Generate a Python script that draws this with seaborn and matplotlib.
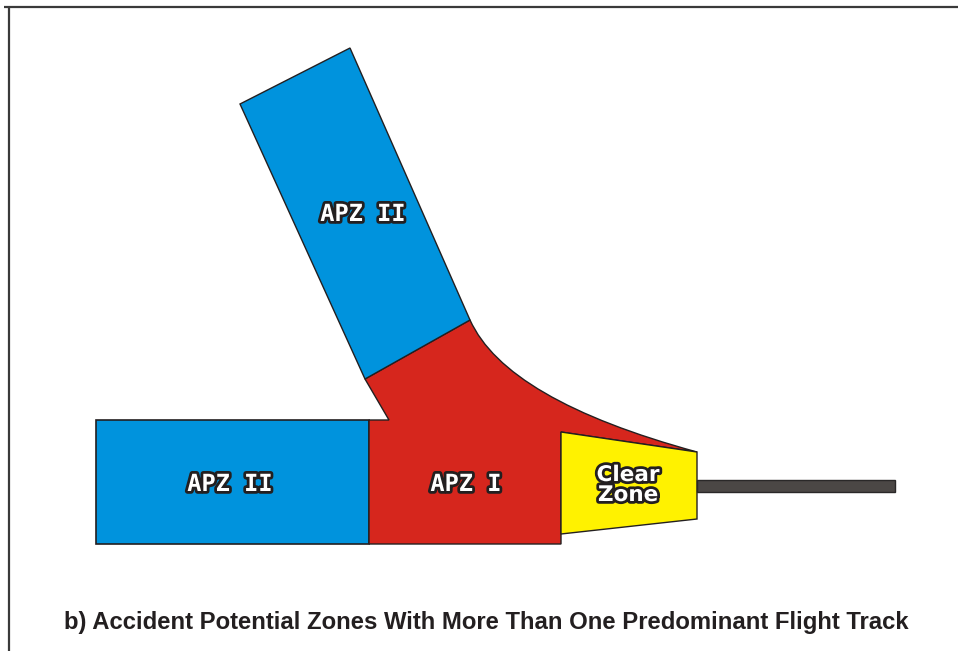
import numpy as np
import matplotlib
matplotlib.use("Agg")
import matplotlib.pyplot as plt
import matplotlib.patheffects as pe
from matplotlib.patches import Polygon, PathPatch, Rectangle
from matplotlib.path import Path
import seaborn as sns

# zone outlines in picture coordinates (x right, y down)
apz2_side = [(96, 420), (369, 420), (369, 544), (96, 544)]
apz2_tilted = [(240, 104), (350, 48), (470, 320), (365, 379)]
apz1_verts = [(369, 544), (369, 420), (389, 420), (365, 379), (470, 320),
              (506, 400), (697, 452), (561, 432), (561, 544), (369, 544)]
apz1_codes = [Path.MOVETO, Path.LINETO, Path.LINETO, Path.LINETO, Path.LINETO,
              Path.CURVE3, Path.CURVE3, Path.LINETO, Path.LINETO, Path.CLOSEPOLY]
clear_zone = [(561, 432), (697, 452), (697, 519), (561, 534)]
runway = (697, 480, 198, 12)  # x, y, width, height

labels = ["APZ II", "APZ II", "APZ I", "Clear\nZone"]
label_xy = [(363, 214), (230, 484), (466, 484), (628, 485)]
caption = "b) Accident Potential Zones With More Than One Predominant Flight Track"

BLUE = "#0093dd"
RED = "#d6261d"
YELLOW = "#fff200"
EDGE = "#231f20"

sns.set_style("white")
plt.rcParams['font.family'] = ['DejaVu Sans']

fig = plt.figure(figsize=(9.58, 6.51), dpi=100)
ax = fig.add_axes([0, 0, 1, 1])
ax.set_xlim(0, 958)
ax.set_ylim(651, 0)
ax.axis("off")

# frame lines (top and left only)
ax.plot([4, 958], [6.5, 6.5], color="#3a3a3a", lw=1.6, solid_capstyle="butt")
ax.plot([9.5, 9.5], [6, 651], color="#3a3a3a", lw=1.6, solid_capstyle="butt")

ax.add_patch(Polygon(apz2_side, closed=True, fc=BLUE, ec=EDGE, lw=1.2))
ax.add_patch(PathPatch(Path(apz1_verts, apz1_codes), fc=RED, ec=EDGE, lw=1.0))
ax.add_patch(Polygon(apz2_tilted, closed=True, fc=BLUE, ec=EDGE, lw=1.0))
ax.add_patch(Polygon(clear_zone, closed=True, fc=YELLOW, ec=EDGE, lw=1.0))
ax.add_patch(Rectangle(runway[:2], runway[2], runway[3], fc="#4b4745", ec="#2a2828", lw=1.0))

outline = [pe.withStroke(linewidth=4, foreground=EDGE)]
for i, (txt, (x, y)) in enumerate(zip(labels, label_xy)):
    if i < 3:
        ax.text(x, y, txt, ha="center", va="center", color="white",
                fontsize=17, fontweight="bold", family="DejaVu Sans Mono",
                path_effects=outline)
    else:
        ax.text(x, y, txt, ha="center", va="center", color="white",
                fontsize=15.5, fontweight="bold", linespacing=1.0,
                path_effects=outline)

ax.text(486, 622, caption, ha="center", va="center", color=EDGE,
        fontsize=17.2, fontweight="bold", family="Liberation Sans")

fig.savefig("out.png", dpi=100)
